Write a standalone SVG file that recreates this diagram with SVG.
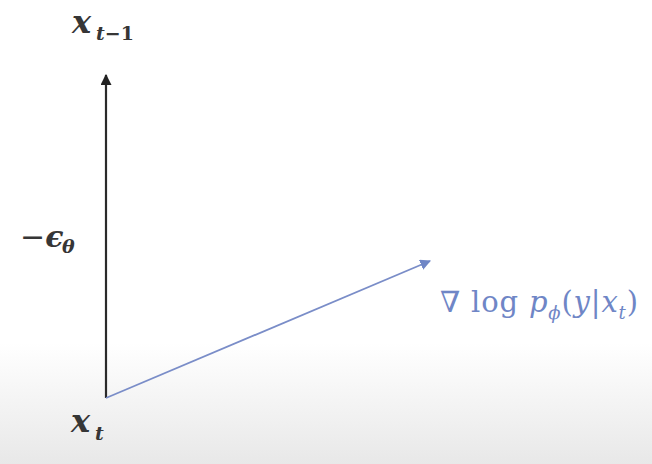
<svg xmlns="http://www.w3.org/2000/svg" width="652" height="464" viewBox="0 0 652 464">
<style>
.m{font-family:"DejaVu Serif","Liberation Serif",serif;font-style:italic;font-weight:bold;fill:#363636}
.b{font-family:"DejaVu Serif","Liberation Serif",serif;fill:#6f86c6}
</style>
<defs>
<linearGradient id="bg" x1="0" y1="0" x2="0" y2="1">
<stop offset="0" stop-color="#ffffff"/>
<stop offset="0.74" stop-color="#ffffff"/>
<stop offset="1" stop-color="#e8e8e8"/>
</linearGradient>
<marker id="ak" viewBox="0 0 10 10" refX="9" refY="5" markerWidth="5" markerHeight="5" orient="auto"><path d="M0,0 L10,5 L0,10 z" fill="#222"/></marker>
<marker id="ab" viewBox="0 0 10 10" refX="9" refY="5" markerWidth="6" markerHeight="6" orient="auto"><path d="M0,0 L10,5 L0,10 z" fill="#6f86c6"/></marker>
</defs>
<rect width="652" height="464" fill="url(#bg)"/>
<g id="connectors">
<line x1="106" y1="398" x2="106" y2="75" stroke="#2a2a2a" stroke-width="2.2" marker-end="url(#ak)"/>
<line x1="106" y1="398" x2="430" y2="261" stroke="#7a8dc8" stroke-width="1.8" marker-end="url(#ab)"/>
</g>
<g id="xtm1">
<text x="72" y="33" class="m" font-size="32">x</text>
<text x="96" y="40" class="m" font-size="19">t<tspan font-style="normal">−1</tspan></text>
</g>
<g id="eps">
<text x="20" y="247" class="m" font-size="30"><tspan font-style="normal" font-weight="normal">−</tspan>ϵ</text>
<text x="62" y="253" class="m" font-size="19">θ</text>
</g>
<g id="xt">
<text x="71" y="432" class="m" font-size="32">x</text>
<text x="95" y="440" class="m" font-size="19">t</text>
</g>
<g id="grad">
<text x="440" y="312" font-size="29" class="b" textLength="198" lengthAdjust="spacing">∇ log <tspan font-style="italic">p</tspan><tspan font-style="italic" font-size="18" dy="7">ϕ</tspan><tspan dy="-7">(</tspan><tspan font-style="italic">y</tspan>|<tspan font-style="italic">x</tspan><tspan font-style="italic" font-size="18" dy="7">t</tspan><tspan dy="-7">)</tspan></text>
</g>
</svg>
